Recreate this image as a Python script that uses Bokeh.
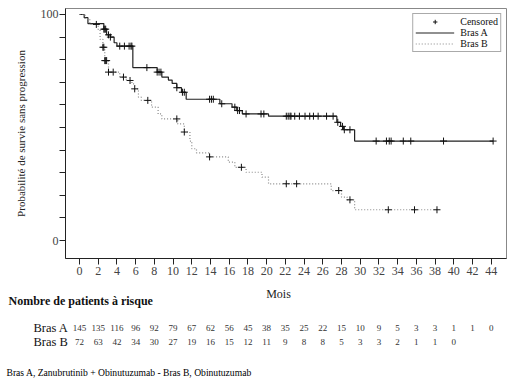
import math
import numpy as np
from bokeh.plotting import figure
from bokeh.layouts import column
from bokeh.models import Range1d, FixedTicker, Label, Legend, LegendItem, ColumnDataSource
from bokeh.core.properties import value
from bokeh.embed import file_html
from bokeh.resources import INLINE

# ---------------- data ----------------
x_ticks = list(range(0, 46, 2))
y_ticks = list(range(0, 101, 10))

armA_time = [0, 0.5, 0.9, 2.6, 2.9, 3.3, 3.7, 4.0, 5.7, 8.3, 8.8, 9.5, 9.9, 10.4, 10.9, 11.4,
             15.0, 16.3, 16.8, 17.4, 20.2, 27.5, 27.9, 28.2, 29.4]
armA_surv = [100, 98.6, 96, 93.5, 91, 90, 87.5, 86, 76.5, 74.5, 72.3, 71, 69.5, 67.6, 65.6, 62.5,
             60.5, 59, 57.5, 56, 55, 52.3, 50.5, 49, 44]
armA_end = 44.2
armA_cens = [2.6, 2.7, 2.8, 3.1, 3.3, 4.3, 4.8, 5.3, 5.5, 5.6, 7.2, 8.3, 8.5, 8.7, 10.4, 11.0, 11.2,
             13.9, 14.1, 14.3, 15.2, 16.6, 16.9, 17.1, 17.8, 19.4, 19.7, 22.1, 22.3, 22.5, 22.6,
             23.0, 23.5, 24.1, 24.6, 25.0, 25.5, 26.4, 27.1, 27.6, 28.1, 28.3, 28.9, 31.7, 32.8,
             33.1, 33.3, 34.6, 35.4, 38.9, 44.2]

armB_time = [0, 0.6, 1.1, 2.0, 2.2, 2.5, 2.7, 3.1, 4.3, 5.0, 5.6, 5.9, 6.3, 6.6, 7.7, 8.4, 8.8,
             10.5, 11.2, 11.8, 12.0, 12.5, 13.9, 15.9, 16.6, 17.8, 19.5, 20.2, 26.9, 28.0, 28.6, 29.4]
armB_surv = [100, 98, 95.6, 93, 89, 85.5, 79.6, 74.5, 72.3, 70.8, 69.3, 67.1, 63.4, 62, 59, 56, 53.8,
             51.6, 48, 44, 40.6, 38.8, 37, 34.7, 32.4, 30.2, 28, 25.1, 22.1, 19.2, 18, 13.6]
armB_end = 38.2
armB_cens = [1.8, 2.5, 2.6, 2.7, 2.8, 2.9, 3.1, 3.6, 4.7, 5.4, 5.9, 7.3, 10.4, 11.2, 13.9, 17.3,
             22.1, 23.2, 27.7, 28.9, 33.0, 35.8, 38.2]

risk_A = [145, 135, 116, 96, 92, 79, 67, 62, 56, 45, 38, 35, 25, 22, 15, 10, 9, 5, 3, 3, 1, 1, 0]
risk_B = [72, 63, 42, 34, 30, 27, 19, 16, 15, 12, 11, 9, 8, 8, 5, 3, 3, 2, 1, 1, 0]

labels_arms = ["Bras A", "Bras B"]
title_y = "Probabilité de survie sans progression"
title_x = "Mois"
risk_title = "Nombre de patients à risque"
footnote = "Bras A, Zanubrutinib + Obinutuzumab - Bras B, Obinutuzumab"

FONT = "Liberation Serif"


def step_value(times, surv, t):
    idx = np.searchsorted(np.asarray(times), np.asarray(t), side="right") - 1
    return np.asarray(surv)[idx]


# ---------------- main KM plot ----------------
p = figure(width=515, height=288, output_backend="svg", toolbar_location=None,
           x_range=Range1d(-1.496, 45.63), y_range=Range1d(-7.96, 102.65),
           min_border_left=65, min_border_right=9, min_border_top=8, min_border_bottom=30)
p.frame_align = False
p.grid.visible = False
p.outline_line_color = "#888888"
p.outline_line_width = 1
p.background_fill_color = "white"
p.border_fill_color = "white"

p.xaxis.ticker = FixedTicker(ticks=x_ticks)
p.yaxis.ticker = FixedTicker(ticks=y_ticks)
p.yaxis.major_label_overrides = {t: ("" if t not in (0, 100) else str(t)) for t in y_ticks}
for ax in (p.xaxis[0], p.yaxis[0]):
    ax.major_label_text_font = FONT
    ax.major_label_text_font_size = "12px"
    ax.major_label_text_color = "#444444"
    ax.axis_line_color = "#222222"
    ax.major_tick_line_color = "#222222"
    ax.minor_tick_line_color = None
    ax.major_tick_in = 0
    ax.major_tick_out = 6
    ax.major_label_standoff = 2
p.yaxis.major_label_standoff = 1
p.yaxis.axis_label = title_y
p.yaxis.axis_label_text_font = FONT
p.yaxis.axis_label_text_font_size = "11px"
p.yaxis.axis_label_text_font_style = "normal"
p.yaxis.axis_label_text_color = "#222222"
p.yaxis.axis_label_standoff = 11

xa = list(armA_time) + [armA_end]
ya = list(armA_surv) + [armA_surv[-1]]
xb = list(armB_time) + [armB_end]
yb = list(armB_surv) + [armB_surv[-1]]
rA = p.step(xa, ya, mode="after", line_color="#222222", line_width=1.2)
rB = p.step(xb, yb, mode="after", line_color="#888888", line_width=1.2, line_dash="1 2")

srcA = ColumnDataSource(dict(x=armA_cens, y=step_value(armA_time, armA_surv, armA_cens)))
srcB = ColumnDataSource(dict(x=armB_cens, y=step_value(armB_time, armB_surv, armB_cens)))
cA = p.scatter("x", "y", source=srcA, marker="cross", size=7, line_color="#111111", line_width=1)
cB = p.scatter("x", "y", source=srcB, marker="cross", size=7, line_color="#111111", line_width=1)

legend = Legend(items=[LegendItem(label="Censored", renderers=[cA]),
                       LegendItem(label=labels_arms[0], renderers=[rA]),
                       LegendItem(label=labels_arms[1], renderers=[rB])],
                location="top_right", margin=5, padding=2, spacing=0,
                glyph_width=39, glyph_height=11, label_height=11, label_standoff=6,
                label_text_font=FONT, label_text_font_size="10px", label_text_color="#111111",
                border_line_color="#555555", border_line_width=1, background_fill_alpha=1)
p.add_layout(legend)

# ---------------- risk table (below) ----------------
# frame covers the whole canvas; vertical data units run downward from 288 to 383
q = figure(width=515, height=95, output_backend="svg", toolbar_location=None,
           x_range=Range1d(-8.443, 46.60), y_range=Range1d(383, 288),
           x_axis_type=None, y_axis_type=None,
           min_border_left=0, min_border_right=0, min_border_top=0, min_border_bottom=0)
q.frame_align = False
q.grid.visible = False
q.outline_line_color = None
q.background_fill_color = "white"
q.border_fill_color = "white"

ROW_Y = [327, 341]
for vals, yy in zip((risk_A, risk_B), ROW_Y):
    src = ColumnDataSource(dict(x=x_ticks[:len(vals)], y=[yy] * len(vals), t=[str(v) for v in vals]))
    q.text("x", "y", text="t", source=src, text_align="center", text_baseline="middle",
           text_font=value(FONT), text_font_size="9px", text_color="#333333")

q.add_layout(Label(x=278, y=293, x_units="screen", text=title_x, text_align="center",
                   text_baseline="middle", text_font=FONT, text_font_size="12px",
                   text_color="#222222"))
q.add_layout(Label(x=8, y=300, x_units="screen", text=risk_title, text_align="left",
                   text_baseline="middle", text_font_style="bold", text_font=FONT,
                   text_font_size="12px", text_color="#111111"))
for lab, yy in zip(labels_arms, ROW_Y):
    q.add_layout(Label(x=33, y=yy, x_units="screen", text=lab, text_align="left",
                       text_baseline="middle", text_font=FONT, text_font_size="12.5px",
                       text_color="#111111"))
q.add_layout(Label(x=6, y=372, x_units="screen", text=footnote, text_align="left",
                   text_baseline="middle", text_font=FONT, text_font_size="9.6px",
                   text_color="#000000"))

layout = column(p, q, spacing=0)
open("out.html", "w").write(file_html(layout, INLINE))
